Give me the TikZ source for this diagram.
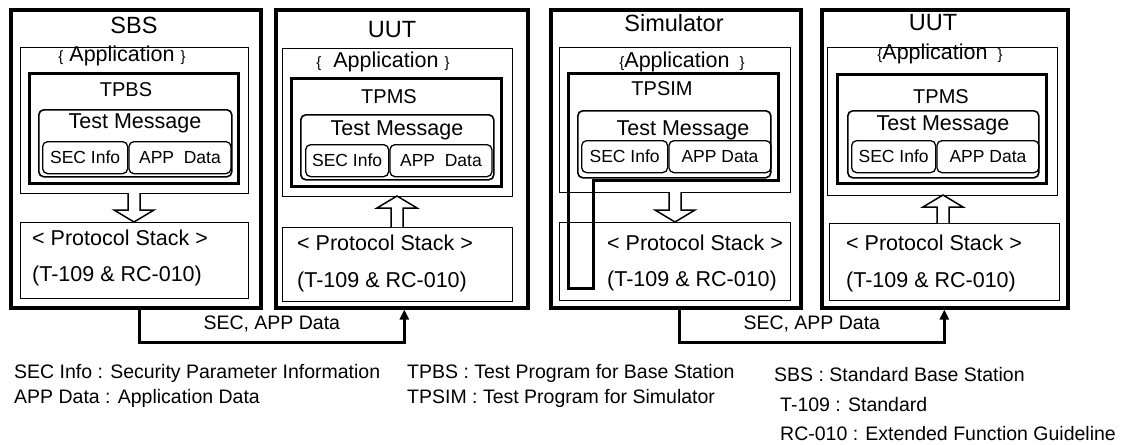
\documentclass[tikz,border=0pt]{standalone}
\usepackage{fontspec}
\setmainfont{Liberation Sans}
\usetikzlibrary{arrows.meta,calc,positioning}
\tikzset{unit/.style={draw, line width=2.6pt, anchor=north west, inner sep=0pt}}
\tikzset{layer/.style={draw, line width=0.9pt, anchor=north west, inner sep=0pt}}
\tikzset{program/.style={draw, line width=3pt, anchor=north west, inner sep=0pt}}
\tikzset{message/.style={draw, line width=1.6pt, rounded corners=5pt, anchor=north west, inner sep=0pt}}
\tikzset{field/.style={draw, line width=1.3pt, rounded corners=5pt, anchor=north west, inner sep=0pt, minimum height=32pt, font=\fontsize{17.5}{19}\selectfont}}
\tikzset{title/.style={inner sep=0pt, font=\fontsize{23.5}{26}\selectfont}}
\tikzset{txt/.style={inner sep=0pt, font=\fontsize{21.5}{24}\selectfont}}
\tikzset{prog/.style={inner sep=0pt, font=\fontsize{20}{24}\selectfont}}
\tikzset{stacktxt/.style={txt, anchor=west}}
\tikzset{conn/.style={inner sep=0pt, font=\fontsize{19.5}{21}\selectfont}}
\tikzset{legend/.style={inner sep=0pt, anchor=west, font=\fontsize{19.5}{21}\selectfont}}
\tikzset{hollow/.style={draw, line width=1.5pt, fill=white}}
\tikzset{link/.style={line width=2.6pt, -{Triangle[width=9pt,length=10pt]}}}
\newcommand{\brl}{{\fontsize{15}{15}\selectfont\{}}
\newcommand{\brr}{{\fontsize{15}{15}\selectfont\}}}

\begin{document}
\begin{tikzpicture}[x=1pt,y=-1pt]
\useasboundingbox (0,0) rectangle (1123,444);
% Nodes
% SBS
\node (sbs) [unit, minimum width=251pt, minimum height=299pt] at (9,8) {};
\node (sbsapp) [layer, minimum width=228pt, minimum height=146pt] at (20,47) {};
\node (tpbs) [program, minimum width=209pt, minimum height=110pt] at (28,72) {};
\node (sbsmsg) [message, minimum width=193pt, minimum height=67pt] at (38,109) {};
\node (sbssec) [field, minimum width=85pt] at (42,141) {SEC Info};
\node (sbsdata) [field, minimum width=102pt, right=0pt of sbssec] {APP\ \ Data};
\node (sbsstack) [layer, minimum width=228pt, minimum height=76pt] at (20,222) {};
\node (sbsname) [title] at (134,25) {SBS};
\node (sbsapptxt) [txt] at (122,56) {\brl\ Application \brr};
\node (tpbstxt) [prog] at (126,90) {TPBS};
\node (sbsmsgtxt) [txt] at (135,123) {Test Message};
\node (sbsstack1) [stacktxt] at (32,238) {< Protocol Stack >};
\node (sbsstack2) [stacktxt] at (32,276) {(T-109 \& RC-010)};

% UUT (left)
\node (uuta) [unit, minimum width=253pt, minimum height=299pt] at (274,8) {};
\node (uutaapp) [layer, minimum width=230pt, minimum height=148pt] at (282,48) {};
\node (tpmsa) [program, minimum width=210pt, minimum height=108pt] at (290,77) {};
\node (uutamsg) [message, minimum width=193pt, minimum height=65pt] at (300,114) {};
\node (uutasec) [field, minimum width=83pt] at (305,144) {SEC Info};
\node (uutadata) [field, minimum width=102pt, right=0pt of uutasec] {APP\ \ Data};
\node (uutastack) [layer, minimum width=230pt, minimum height=74pt] at (282,227) {};
\node (uutaname) [title] at (392,30) {UUT};
\node (uutaapptxt) [txt] at (383,62) {\brl\ \ Application \brr};
\node (tpmsatxt) [prog] at (389,97) {TPMS};
\node (uutamsgtxt) [txt] at (397,130) {Test Message};
\node (uutastack1) [stacktxt] at (297,243) {< Protocol Stack >};
\node (uutastack2) [stacktxt] at (297,282) {(T-109 \& RC-010)};

% Simulator
\node (sim) [unit, minimum width=251pt, minimum height=299pt] at (549,8) {};
\node (simapp) [layer, minimum width=231pt, minimum height=145pt] at (559,47) {};
\node (simstack) [layer, minimum width=231pt, minimum height=78pt] at (559,222) {};
\node (simmsg) [message, minimum width=193pt, minimum height=67pt] at (577,110) {};
\node (simsec) [field, minimum width=86pt] at (581,140) {SEC Info};
\node (simdata) [field, minimum width=102pt, right=0pt of simsec] {APP Data};
\node (simname) [title] at (674,23) {Simulator};
\node (simapptxt) [txt] at (682,62) {\brl Application\hspace{10pt}\brr};
\node (tpsimtxt) [prog] at (662,89) {TPSIM};
\node (simmsgtxt) [txt] at (683,130) {Test Message};
\node (simstack1) [stacktxt] at (607,243) {< Protocol Stack >};
\node (simstack2) [stacktxt] at (607,281) {(T-109 \& RC-010)};
\draw[line width=3pt] (593,180) -- (778,180) -- (778,73) -- (568,73) -- (568,288) -- (593,288) -- cycle;

% UUT (right)
\node (uutb) [unit, minimum width=247pt, minimum height=299pt] at (820,8) {};
\node (uutbapp) [layer, minimum width=230pt, minimum height=148pt] at (827,47) {};
\node (tpmsb) [program, minimum width=209pt, minimum height=109pt] at (836,73) {};
\node (uutbmsg) [message, minimum width=191pt, minimum height=67pt] at (847,110) {};
\node (uutbsec) [field, minimum width=84pt] at (851,140) {SEC Info};
\node (uutbdata) [field, minimum width=102pt, right=0pt of uutbsec] {APP Data};
\node (uutbstack) [layer, minimum width=230pt, minimum height=77pt] at (829,223) {};
\node (uutbname) [title] at (933,23) {UUT};
\node (uutbapptxt) [txt] at (940,54) {\brl Application\hspace{10pt}\brr};
\node (tpmsbtxt) [prog] at (941,97) {TPMS};
\node (uutbmsgtxt) [txt] at (943,125) {Test Message};
\node (uutbstack1) [stacktxt] at (846,243) {< Protocol Stack >};
\node (uutbstack2) [stacktxt] at (846,282) {(T-109 \& RC-010)};

\foreach \b in {sbs,uuta,sim,uutb}
  \draw[line width=0.8pt] ([shift={(3.5,3.5)}]\b.north west) rectangle ([shift={(-3.5,-3.5)}]\b.south east);

% hollow arrows between application and protocol stack
\draw[hollow] (128,193) -- (128,210) -- (114,210) -- (134,222) -- (154,210) -- (140,210) -- (140,193);
\draw[hollow] (391,227) -- (391,208) -- (377,208) -- (397,196) -- (417,208) -- (403,208) -- (403,227);
\draw[hollow] (669,192) -- (669,210) -- (655,210) -- (675,222) -- (695,210) -- (681,210) -- (681,192);
\draw[hollow] (937,223) -- (937,207) -- (923,207) -- (943,195) -- (963,207) -- (949,207) -- (949,223);

% Connectors
\draw[link] ([xshift=3.5pt]sbs.south) -- ++(0,33) -| node[pos=0.25, above=9pt, conn] {SEC, APP Data} ([xshift=2.5pt]uuta.south);
\draw[link] ([xshift=3.5pt]sim.south) -- ++(0,33) -| node[pos=0.25, above=9pt, conn] {SEC, APP Data} ([xshift=-0.5pt]uutb.south);

% Legend
\node (leg1) [legend] at (14,373) {SEC Info : Security Parameter Information};
\node (leg2) [legend] at (14,398) {APP Data : Application Data};
\node (leg3) [legend] at (407,373) {TPBS : Test Program for Base Station};
\node (leg4) [legend] at (407,398) {TPSIM : Test Program for Simulator};
\node (leg5) [legend] at (774,375) {SBS : Standard Base Station};
\node (leg6) [legend] at (780,405) {T-109 : Standard};
\node (leg7) [legend] at (780,434) {RC-010 : Extended Function Guideline};
\end{tikzpicture}
\end{document}
